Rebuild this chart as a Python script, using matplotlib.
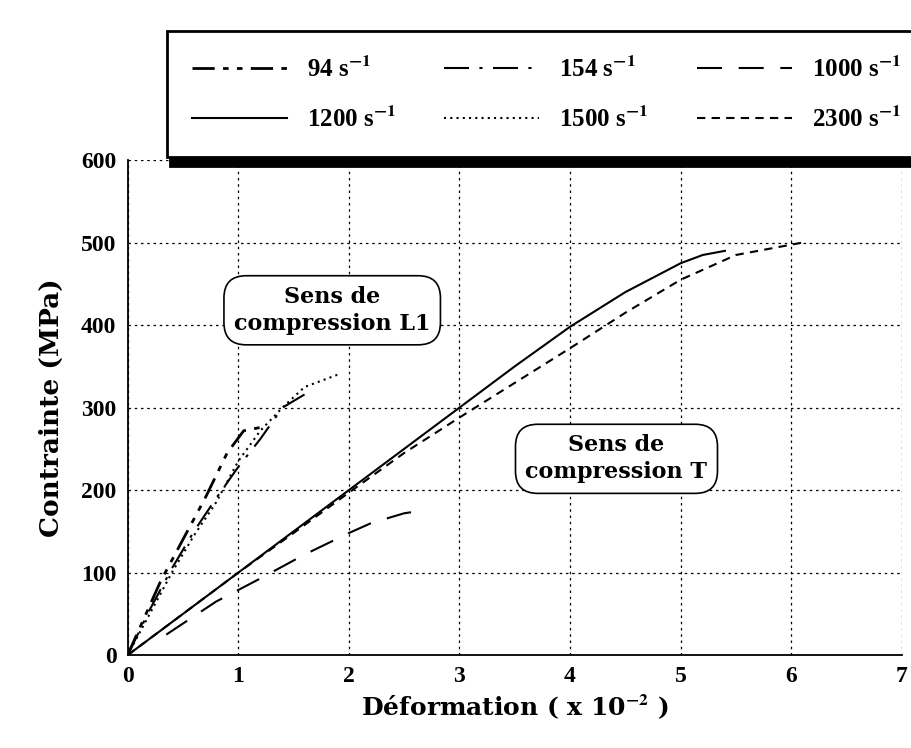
import matplotlib.pyplot as plt

plt.rcParams['font.family'] = ['Liberation Serif', 'DejaVu Serif']
plt.rcParams['font.weight'] = 'bold'
plt.rcParams['mathtext.fontset'] = 'stix'
plt.rcParams['mathtext.default'] = 'bf'

# Courbes sens T
x_1200 = [0, 0.5, 1.0, 1.5, 2.0, 2.5, 3.0, 3.5, 4.0, 4.5, 5.0, 5.2, 5.4]
y_1200 = [0, 50, 100, 150, 200, 250, 300, 350, 398, 440, 475, 485, 490]
x_2300 = [0, 0.5, 1.0, 1.5, 2.0, 2.5, 3.0, 3.5, 4.0, 4.5, 5.0, 5.5, 6.1]
y_2300 = [0, 50, 100, 148, 197, 245, 288, 330, 372, 415, 455, 485, 500]
x_1000 = [0.35, 0.8, 1.2, 1.6, 2.0, 2.2, 2.5, 2.7]
y_1000 = [25, 65, 93, 122, 148, 160, 172, 176]

# Courbes sens L1
x_94 = [0, 0.1, 0.3, 0.5, 0.7, 0.9, 1.05, 1.2]
y_94 = [0, 30, 90, 140, 190, 245, 272, 276]
x_154 = [0, 0.2, 0.4, 0.6, 0.8, 1.0, 1.2, 1.4, 1.6]
y_154 = [0, 55, 105, 150, 190, 228, 262, 300, 316]
x_1500 = [0, 0.2, 0.4, 0.6, 0.8, 1.0, 1.2, 1.4, 1.6, 1.9]
y_1500 = [0, 50, 100, 145, 185, 235, 272, 300, 325, 340]

fig = plt.figure(figsize=(9.11, 7.48), dpi=100)
ax = fig.add_axes([0.14, 0.124, 0.85, 0.662])

l94, = ax.plot(x_94, y_94, color='black', lw=2, linestyle=(0, (8, 3, 2, 3, 2, 3)), label='94 s$^{-1}$')
l154, = ax.plot(x_154, y_154, color='black', lw=1.5, linestyle=(0, (12, 5, 1.5, 5)), label='154 s$^{-1}$')
l1000, = ax.plot(x_1000, y_1000, color='black', lw=1.5, linestyle=(0, (12, 8)), label='1000 s$^{-1}$')
l1200, = ax.plot(x_1200, y_1200, color='black', lw=1.5, linestyle='-', label='1200 s$^{-1}$')
l1500, = ax.plot(x_1500, y_1500, color='black', lw=1.5, linestyle=(0, (1, 2)), label='1500 s$^{-1}$')
l2300, = ax.plot(x_2300, y_2300, color='black', lw=1.5, linestyle=(0, (4, 3)), label='2300 s$^{-1}$')

ax.set_xlim(0, 7)
ax.set_ylim(0, 600)
ax.set_xticks(range(0, 8))
ax.set_yticks(range(0, 700, 100))
ax.grid(True, color='black', linestyle=(0, (2, 3)), linewidth=0.9)
ax.spines['right'].set_visible(False)
ax.spines['top'].set_visible(False)
ax.spines['left'].set_linewidth(1.3)
ax.spines['bottom'].set_linewidth(1.3)
ax.tick_params(labelsize=17, length=0, pad=8)
ax.set_xlabel('Déformation ( x 10$^{-2}$ )', fontsize=18, fontweight='bold', family='DejaVu Serif')
ax.set_ylabel('Contrainte (MPa)', fontsize=19, fontweight='bold', family='DejaVu Serif', labelpad=12)

# Encadrés
for (cx, cy, txt) in [(1.85, 418, 'Sens de\ncompression L1'), (4.42, 238, 'Sens de\ncompression T')]:
    ax.text(cx, cy, txt, ha='center', va='center', fontsize=16, fontweight='bold', linespacing=1.3,
            family='DejaVu Serif',
            bbox=dict(boxstyle='round,pad=0.45,rounding_size=1.0', fc='white', ec='black', lw=1.2))

# ordre par colonnes pour obtenir les lignes : 94,154,1000 / 1200,1500,2300
handles = [l94, l1200, l154, l1500, l1000, l2300]
leg = fig.legend(handles=handles, labels=[h.get_label() for h in handles],
                 loc='upper left', bbox_to_anchor=(0.17, 0.78, 0.86, 0.195), mode='expand', ncol=3,
                 fontsize=18, handlelength=3.8, borderpad=1.0, labelspacing=1.0,
                 fancybox=False, edgecolor='black', shadow={'color': 'black', 'alpha': 1, 'ox': 2, 'oy': -6})
leg.get_frame().set_linewidth(2)

fig.savefig('out.png', dpi=100)
